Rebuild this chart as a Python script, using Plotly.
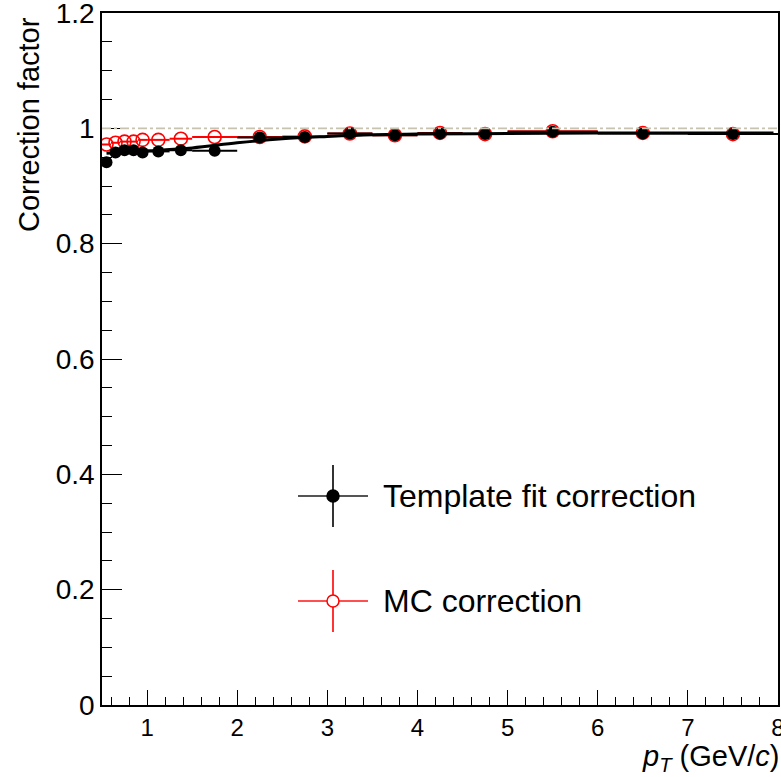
import plotly.graph_objects as go

# Bin centres and half-widths (GeV/c)
pt = [0.55, 0.65, 0.75, 0.85, 0.95, 1.125, 1.375, 1.75, 2.25, 2.75,
      3.25, 3.75, 4.25, 4.75, 5.5, 6.5, 7.5]
pt_err = [0.05, 0.05, 0.05, 0.05, 0.05, 0.125, 0.125, 0.25, 0.25, 0.25,
          0.25, 0.25, 0.25, 0.25, 0.5, 0.5, 0.5]

# Template fit correction (black, filled)
template_fit = [0.941, 0.958, 0.962, 0.962, 0.958, 0.960, 0.962, 0.961, 0.984, 0.985,
                0.991, 0.988, 0.991, 0.990, 0.994, 0.991, 0.990]

# MC correction (red, open)
mc_corr = [0.972, 0.975, 0.977, 0.977, 0.980, 0.980, 0.982, 0.985, 0.985, 0.986,
           0.991, 0.988, 0.992, 0.990, 0.995, 0.992, 0.990]

# Fit curve to the template-fit correction
fit_x = [0.55, 1.0, 1.5, 2.0, 2.5, 3.0, 3.5, 4.0, 5.0, 6.0, 7.0, 7.95]
fit_y = [0.957, 0.961, 0.966, 0.975, 0.982, 0.986, 0.989, 0.990, 0.991, 0.992, 0.992, 0.992]

# page geometry (body margin removed in the page, see write_html below)
W, H = 781, 777
AX_L, AX_R, AX_T, AX_B = 102, 778, 13, 705   # plot-area edges in page pixels
ML, MR, MT, MB = AX_L, W - AX_R, AX_T, H - AX_B
PW, PH = AX_R - AX_L, AX_B - AX_T

def px(x):
    return (x - AX_L) / PW

def py(y):
    return (AX_B - y) / PH

FONT = "Liberation Sans, Arial, Helvetica"

fig = go.Figure()

fig.add_trace(go.Scatter(
    x=pt, y=mc_corr, mode="markers",
    marker=dict(symbol="circle-open", size=13, color="#ff0000", line=dict(width=1.6, color="#ff0000")),
    error_x=dict(type="data", array=pt_err, color="#ff0000", thickness=2, width=0),
    showlegend=False, hoverinfo="skip"))

fig.add_trace(go.Scatter(
    x=fit_x, y=fit_y, mode="lines", line=dict(color="black", width=3, shape="spline"),
    showlegend=False, hoverinfo="skip"))

fig.add_trace(go.Scatter(
    x=pt, y=template_fit, mode="markers",
    marker=dict(symbol="circle", size=12, color="black"),
    error_x=dict(type="data", array=pt_err, color="black", thickness=2, width=0),
    showlegend=False, hoverinfo="skip"))

# reference line at 1
fig.add_shape(type="line", xref="paper", x0=0, x1=1, yref="y", y0=1, y1=1,
              line=dict(color="#c8c3ae", width=1.6, dash="dashdot"))

# manual legend
def legend_entry(cy, color, filled, hcolor):
    fig.add_shape(type="line", xref="paper", yref="paper",
                  x0=px(298), x1=px(368), y0=py(cy), y1=py(cy),
                  line=dict(color=hcolor, width=2))
    fig.add_shape(type="line", xref="paper", yref="paper",
                  x0=px(333), x1=px(333), y0=py(cy - 31), y1=py(cy + 31),
                  line=dict(color=color, width=1.6))
    fig.add_shape(type="circle", xref="paper", yref="paper",
                  x0=px(333 - 6), x1=px(333 + 6), y0=py(cy + 6), y1=py(cy - 6),
                  line=dict(color=color, width=1.5),
                  fillcolor=color if filled else "white")

legend_entry(496, "black", True, "#555555")
legend_entry(601, "#ff0000", False, "#ff5050")

fig.add_annotation(x=px(381), y=py(496), xref="paper", yref="paper", text="Template fit correction",
                   showarrow=False, xanchor="left", yanchor="middle",
                   font=dict(family=FONT, size=32, color="black"))
fig.add_annotation(x=px(381), y=py(601), xref="paper", yref="paper", text="MC correction",
                   showarrow=False, xanchor="left", yanchor="middle",
                   font=dict(family=FONT, size=32, color="black"))

# axis titles
fig.add_annotation(x=px(781), y=py(739), xref="paper", yref="paper",
                   text="<i>p</i><sub><i>T</i></sub> (GeV/<i>c</i>)",
                   showarrow=False, xanchor="right", yanchor="top", borderpad=0,
                   font=dict(family=FONT, size=29, color="black"))
fig.add_annotation(x=px(29), y=py(125), xref="paper", yref="paper",
                   text="Correction factor", textangle=-90,
                   showarrow=False, xanchor="center", yanchor="middle",
                   font=dict(family=FONT, size=29, color="black"))

fig.update_xaxes(range=[0.5, 8], tick0=0, dtick=1, ticks="inside", ticklen=15, tickwidth=1,
                 tickcolor="black", showline=True, linecolor="black", linewidth=1.5, mirror=True,
                 showgrid=False, zeroline=False, ticklabeloverflow="allow", automargin=False,
                 minor=dict(ticks="inside", ticklen=8, dtick=0.2, tick0=0, tickcolor="black", showgrid=False),
                 tickfont=dict(family=FONT, size=24, color="black"))
fig.update_yaxes(range=[0, 1.2], tick0=0, dtick=0.2, ticks="inside", ticklen=20, tickwidth=1,
                 tickcolor="black", showline=True, linecolor="black", linewidth=1.5, mirror=True,
                 showgrid=False, zeroline=False, ticklabeloverflow="allow", automargin=False,
                 minor=dict(ticks="inside", ticklen=10, dtick=0.05, tick0=0, tickcolor="black", showgrid=False),
                 tickfont=dict(family=FONT, size=28, color="black"))

fig.update_layout(width=W, height=H,
                  margin=dict(l=ML, r=MR, t=MT, b=MB, autoexpand=False),
                  plot_bgcolor="white", paper_bgcolor="white", showlegend=False)

fig.write_html("out.html", config={"displayModeBar": False},
               post_script="document.body.style.margin='0';document.body.style.overflow='hidden';")
